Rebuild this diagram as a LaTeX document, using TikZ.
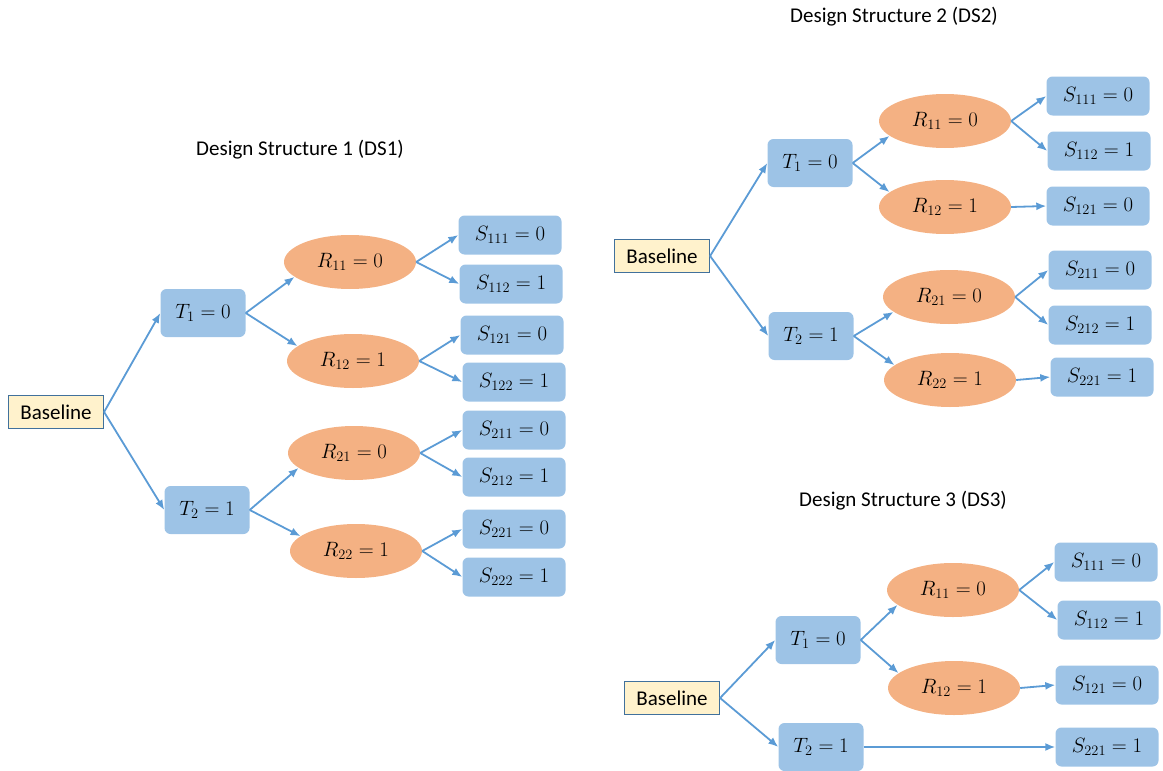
\documentclass[tikz,border=0pt]{standalone}
\usepackage[no-math]{fontspec}
\setmainfont{Carlito}
\usepackage{amsmath}
\usetikzlibrary{shapes.geometric, arrows.meta}

\definecolor{boxblue}{HTML}{9DC3E6}
\definecolor{rorange}{HTML}{F4B183}
\definecolor{baseyellow}{HTML}{FFF2CC}
\definecolor{baseedge}{HTML}{41719C}
\definecolor{arrowblue}{HTML}{5B9BD5}

\begin{document}
\begin{tikzpicture}[x=1pt,y=-1pt,
		base/.style={shape=rectangle,draw=baseedge,fill=baseyellow,line width=1.2pt,minimum width=95pt,minimum height=33pt,font=\fontsize{21}{24}\selectfont},
		tbox/.style={shape=rectangle,rounded corners=6pt,fill=boxblue,minimum width=85pt,minimum height=48pt,font=\fontsize{21.5}{24}\selectfont},
		sbox/.style={tbox,minimum width=103pt,minimum height=39pt},
		rell/.style={shape=ellipse,fill=rorange,inner sep=0pt,minimum width=132pt,minimum height=54pt,font=\fontsize{21.5}{24}\selectfont},
		title/.style={font=\fontsize{21}{24}\selectfont},
		arr/.style={-{Latex[length=10pt,width=8pt]},arrowblue,line width=1.8pt}]
		\useasboundingbox (0,0) rectangle (1163,771);

		% DS1
		\node[title] (D1) at (300,150){Design Structure 1 (DS1)};
		\node[base] (A) at (56,412){Baseline};
		\node[tbox] (A1) at (203,313){$T_1=0$};
		\node[tbox] (A2) at (207,510){$T_2=1$};
		\node[rell] (A11) at (350,262){$R_{11}=0$};
		\node[rell] (A12) at (353,361){$R_{12}=1$};
		\node[rell] (A21) at (354,453){$R_{21}=0$};
		\node[rell] (A22) at (356,551){$R_{22}=1$};
		\node[sbox] (A111) at (510,235){$S_{111}=0$};
		\node[sbox] (A112) at (511,284){$S_{112}=1$};
		\node[sbox] (A121) at (512,335){$S_{121}=0$};
		\node[sbox] (A122) at (514,382){$S_{122}=1$};
		\node[sbox] (A211) at (514,430){$S_{211}=0$};
		\node[sbox] (A212) at (514,477){$S_{212}=1$};
		\node[sbox] (A221) at (514,529){$S_{221}=0$};
		\node[sbox] (A222) at (514,577){$S_{222}=1$};

		\path [arr] (A.east) edge (A1.west);
		\path [arr] (A.east) edge (A2.west);
		\path [arr] (A1.east) edge (A11.195);
		\path [arr] (A1.east) edge (A12.165);
		\path [arr] (A2.east) edge (A21.195);
		\path [arr] (A2.east) edge (A22.165);
		\path [arr] (A11.east) edge (A111.west);
		\path [arr] (A11.east) edge (A112.west);
		\path [arr] (A12.east) edge (A121.west);
		\path [arr] (A12.east) edge (A122.west);
		\path [arr] (A21.east) edge (A211.west);
		\path [arr] (A21.east) edge (A212.west);
		\path [arr] (A22.east) edge (A221.west);
		\path [arr] (A22.east) edge (A222.west);

		% DS2
		\node[title] (D2) at (894,17){Design Structure 2 (DS2)};
		\node[base] (B) at (662,256){Baseline};
		\node[tbox] (B1) at (810,163){$T_1=0$};
		\node[tbox] (B2) at (811,336){$T_2=1$};
		\node[rell] (B11) at (945,121){$R_{11}=0$};
		\node[rell] (B12) at (945,207){$R_{12}=1$};
		\node[rell] (B21) at (949,297){$R_{21}=0$};
		\node[rell] (B22) at (950,380){$R_{22}=1$};
		\node[sbox] (B111) at (1098,96){$S_{111}=0$};
		\node[sbox] (B112) at (1099,151){$S_{112}=1$};
		\node[sbox] (B121) at (1098,206){$S_{121}=0$};
		\node[sbox] (B211) at (1100,270){$S_{211}=0$};
		\node[sbox] (B212) at (1100,325){$S_{212}=1$};
		\node[sbox] (B221) at (1102,377){$S_{221}=1$};

		\path [arr] (B.east) edge (B1.west);
		\path [arr] (B.east) edge (B2.west);
		\path [arr] (B1.east) edge (B11.195);
		\path [arr] (B1.east) edge (B12.165);
		\path [arr] (B2.east) edge (B21.195);
		\path [arr] (B2.east) edge (B22.165);
		\path [arr] (B11.east) edge (B111.west);
		\path [arr] (B11.east) edge (B112.west);
		\path [arr] (B12.east) edge (B121.west);
		\path [arr] (B21.east) edge (B211.west);
		\path [arr] (B21.east) edge (B212.west);
		\path [arr] (B22.east) edge (B221.west);

		% DS3
		\node[title] (D3) at (903,501){Design Structure 3 (DS3)};
		\node[base] (C) at (672,698){Baseline};
		\node[tbox] (C1) at (818,640){$T_1=0$};
		\node[tbox] (C2) at (821,747){$T_2=1$};
		\node[rell] (C11) at (953,590){$R_{11}=0$};
		\node[rell] (C12) at (954,688){$R_{12}=1$};
		\node[sbox] (C111) at (1106,562){$S_{111}=0$};
		\node[sbox] (C112) at (1109,620){$S_{112}=1$};
		\node[sbox] (C121) at (1107,685){$S_{121}=0$};
		\node[sbox] (C221) at (1107,747){$S_{221}=1$};

		\path [arr] (C.east) edge (C1.west);
		\path [arr] (C.east) edge (C2.west);
		\path [arr] (C1.east) edge (C11.195);
		\path [arr] (C1.east) edge (C12.165);
		\path [arr] (C11.east) edge (C111.west);
		\path [arr] (C11.east) edge (C112.west);
		\path [arr] (C12.east) edge (C121.west);
		\path [arr] (C2.east) edge (C221.west);
		\end{tikzpicture}
\end{document}
